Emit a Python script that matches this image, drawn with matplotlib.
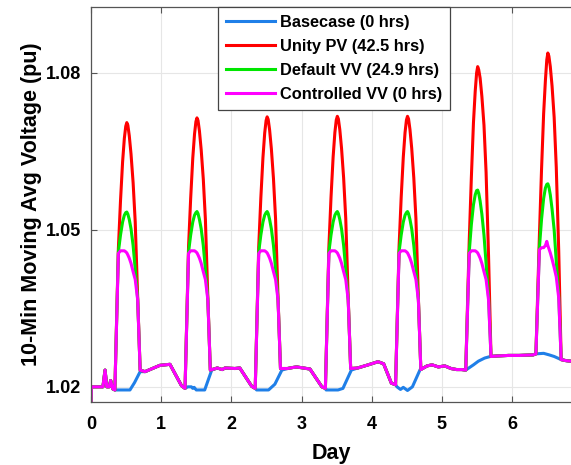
import numpy as np
import matplotlib
matplotlib.use("Agg")
from matplotlib import pyplot as plt

# time offsets (fraction of a day) used for the solar peaks
peak_dt = [0.34, 0.39, 0.42, 0.45, 0.475, 0.495, 0.51, 0.525, 0.545, 0.57, 0.60, 0.63, 0.665, 0.70]

red_peaks = [
    [1.0194, 1.0465, 1.0555, 1.0630, 1.0675, 1.0698, 1.0705, 1.0700, 1.0680, 1.0645, 1.0590, 1.0515, 1.0370, 1.0232],
    [1.0197, 1.0468, 1.0560, 1.0637, 1.0683, 1.0707, 1.0714, 1.0709, 1.0689, 1.0653, 1.0597, 1.0520, 1.0370, 1.0232],
    [1.0197, 1.0468, 1.0561, 1.0638, 1.0685, 1.0709, 1.0716, 1.0711, 1.0691, 1.0655, 1.0598, 1.0521, 1.0370, 1.0235],
    [1.0197, 1.0468, 1.0562, 1.0639, 1.0686, 1.0710, 1.0717, 1.0712, 1.0692, 1.0656, 1.0599, 1.0522, 1.0370, 1.0235],
    [1.0204, 1.0468, 1.0562, 1.0639, 1.0686, 1.0710, 1.0717, 1.0712, 1.0692, 1.0656, 1.0599, 1.0522, 1.0370, 1.0233],
    [1.0232, 1.0480, 1.0600, 1.0705, 1.0765, 1.0800, 1.0812, 1.0806, 1.0790, 1.0755, 1.0700, 1.0610, 1.0450, 1.0258],
    [1.0263, 1.0490, 1.0615, 1.0722, 1.0785, 1.0825, 1.0838, 1.0832, 1.0812, 1.0775, 1.0715, 1.0620, 1.0460, 1.0252],
]
green_peaks = [
    [1.0194, 1.0458, 1.0490, 1.0515, 1.0528, 1.0533, 1.0534, 1.0530, 1.0520, 1.0502, 1.0470, 1.0425, 1.0368, 1.0232],
    [1.0197, 1.0458, 1.0490, 1.0515, 1.0528, 1.0533, 1.0535, 1.0531, 1.0520, 1.0502, 1.0470, 1.0425, 1.0368, 1.0232],
    [1.0197, 1.0458, 1.0490, 1.0515, 1.0528, 1.0533, 1.0535, 1.0531, 1.0520, 1.0502, 1.0470, 1.0425, 1.0368, 1.0235],
    [1.0197, 1.0458, 1.0490, 1.0515, 1.0528, 1.0533, 1.0535, 1.0531, 1.0520, 1.0502, 1.0470, 1.0425, 1.0368, 1.0235],
    [1.0204, 1.0458, 1.0490, 1.0515, 1.0528, 1.0533, 1.0535, 1.0531, 1.0520, 1.0502, 1.0470, 1.0425, 1.0368, 1.0233],
    [1.0232, 1.0458, 1.0510, 1.0548, 1.0567, 1.0575, 1.0576, 1.0570, 1.0555, 1.0530, 1.0490, 1.0435, 1.0372, 1.0258],
    [1.0263, 1.0466, 1.0520, 1.0560, 1.0580, 1.0587, 1.0588, 1.0582, 1.0567, 1.0540, 1.0500, 1.0440, 1.0375, 1.0252],
]
mag_peaks = [
    [1.0194, 1.0455, 1.0460, 1.0460, 1.0460, 1.0458, 1.0456, 1.0452, 1.0446, 1.0436, 1.0420, 1.0405, 1.0366, 1.0232],
    [1.0197, 1.0455, 1.0460, 1.0460, 1.0460, 1.0458, 1.0456, 1.0452, 1.0446, 1.0436, 1.0420, 1.0405, 1.0366, 1.0232],
    [1.0197, 1.0455, 1.0460, 1.0460, 1.0460, 1.0458, 1.0456, 1.0452, 1.0446, 1.0436, 1.0420, 1.0405, 1.0366, 1.0235],
    [1.0197, 1.0455, 1.0460, 1.0460, 1.0460, 1.0458, 1.0456, 1.0452, 1.0446, 1.0436, 1.0420, 1.0405, 1.0366, 1.0235],
    [1.0204, 1.0455, 1.0460, 1.0460, 1.0460, 1.0458, 1.0456, 1.0452, 1.0446, 1.0436, 1.0420, 1.0405, 1.0366, 1.0233],
    [1.0232, 1.0455, 1.0460, 1.0460, 1.0460, 1.0458, 1.0456, 1.0452, 1.0446, 1.0436, 1.0420, 1.0405, 1.0366, 1.0258],
    [1.0263, 1.0462, 1.0466, 1.0466, 1.0470, 1.0478, 1.0470, 1.0464, 1.0456, 1.0444, 1.0428, 1.0410, 1.0370, 1.0252],
]

# basecase during daylight hours
blue_day_t = [
    [0.34, 0.555, 0.62, 0.70],
    [1.34, 1.38, 1.43, 1.45, 1.47, 1.50, 1.62, 1.72],
    [2.34, 2.36, 2.53, 2.62, 2.72],
    [3.34, 3.35, 3.52, 3.59, 3.71],
    [4.34, 4.36, 4.41, 4.45, 4.51, 4.58, 4.69],
    [5.34, 5.45, 5.52, 5.61, 5.69],
    [6.34, 6.45, 6.53, 6.60, 6.70],
]
blue_day_v = [
    [1.0194, 1.0194, 1.0208, 1.0229],
    [1.0197, 1.0200, 1.0200, 1.0197, 1.0199, 1.0194, 1.0194, 1.0232],
    [1.0197, 1.0194, 1.0194, 1.0205, 1.0232],
    [1.0197, 1.0194, 1.0194, 1.0197, 1.0232],
    [1.0204, 1.0200, 1.0195, 1.0199, 1.0193, 1.0200, 1.0233],
    [1.0232, 1.0242, 1.0249, 1.0255, 1.0258],
    [1.0263, 1.0264, 1.0261, 1.0258, 1.0252],
]

# shared night-time profile (all cases identical)
start_t = [0.0, 0.005, 0.17, 0.20, 0.225, 0.26, 0.28, 0.31]
start_v = [1.0169, 1.0200, 1.0200, 1.0232, 1.0200, 1.0200, 1.0212, 1.0196]
night_t = [
    [0.77, 0.98, 1.125, 1.29],
    [1.80, 1.87, 1.91, 2.05, 2.12, 2.29],
    [2.80, 2.88, 2.93, 3.12, 3.29],
    [3.80, 3.95, 4.09, 4.17, 4.28],
    [4.79, 4.86, 4.95, 5.04, 5.13, 5.21, 5.28],
    [5.79, 5.95, 6.10, 6.30],
    [6.77, 6.90],
]
night_v = [
    [1.0229, 1.0241, 1.0243, 1.0202],
    [1.0236, 1.0233, 1.0236, 1.0235, 1.0236, 1.0201],
    [1.0235, 1.0237, 1.0238, 1.0234, 1.0200],
    [1.0236, 1.0242, 1.0248, 1.0244, 1.0207],
    [1.0240, 1.0242, 1.0238, 1.0240, 1.0235, 1.0233, 1.0233],
    [1.0259, 1.0260, 1.0260, 1.0261],
    [1.0250, 1.0248],
]

labels = ["Basecase (0 hrs)", "Unity PV (42.5 hrs)", "Default VV (24.9 hrs)", "Controlled VV (0 hrs)"]
colors = ["#1f7fe8", "#ff0000", "#00e600", "#ff00ff"]


def build_peak_series(peaks):
    t, v = list(start_t), list(start_v)
    for d in range(len(peaks)):
        t += [d + dt for dt in peak_dt]
        v += peaks[d]
        t += night_t[d]
        v += night_v[d]
    return t, v


def build_blue():
    t, v = list(start_t), list(start_v)
    for d in range(len(blue_day_t)):
        t += blue_day_t[d]
        v += blue_day_v[d]
        t += night_t[d]
        v += night_v[d]
    return t, v


plt.rcParams['font.family'] = ['Liberation Sans', 'DejaVu Sans']
plt.rcParams['font.weight'] = 'bold'

fig = plt.figure(figsize=(5.71, 4.65), dpi=100)
ax = fig.add_axes([0.1594, 0.1355, 0.8406, 0.8495])

series = [build_blue(), build_peak_series(red_peaks),
          build_peak_series(green_peaks), build_peak_series(mag_peaks)]
for (t, v), c, lab in zip(series, colors, labels):
    ax.plot(t, v, color=c, lw=2.2, label=lab, solid_joinstyle='round')

ax.set_xlim(0, 6.84)
ax.set_ylim(1.0171, 1.0926)
ax.set_xticks(range(0, 7))
ax.set_yticks([1.02, 1.05, 1.08])
ax.set_yticklabels(["1.02", "1.05", "1.08"])
ax.grid(True, color="#e6e6e6", lw=0.8)
ax.set_axisbelow(True)
ax.tick_params(direction='in', length=4, labelsize=13, color="#555555", top=True)
ax.tick_params(axis='x', pad=10)
ax.tick_params(axis='y', pad=7)
for s in ax.spines.values():
    s.set_color("#555555")
    s.set_linewidth(0.9)
ax.spines['right'].set_visible(False)

ax.set_xlabel("Day", fontsize=15.5, fontweight='bold', labelpad=7)
ax.set_ylabel("10-Min Moving Avg Voltage (pu)", fontsize=15.5, fontweight='bold', labelpad=3)

leg = ax.legend(loc='upper center', bbox_to_anchor=(0.506, 1.0), fontsize=11.8,
                handlelength=3.0, labelspacing=0.55, borderaxespad=0, fancybox=False,
                framealpha=1, edgecolor="#444444", borderpad=0.5, handletextpad=0.3)
leg.get_frame().set_linewidth(0.9)
for txt in leg.get_texts():
    txt.set_fontweight('bold')

fig.savefig("out.png", dpi=100)
